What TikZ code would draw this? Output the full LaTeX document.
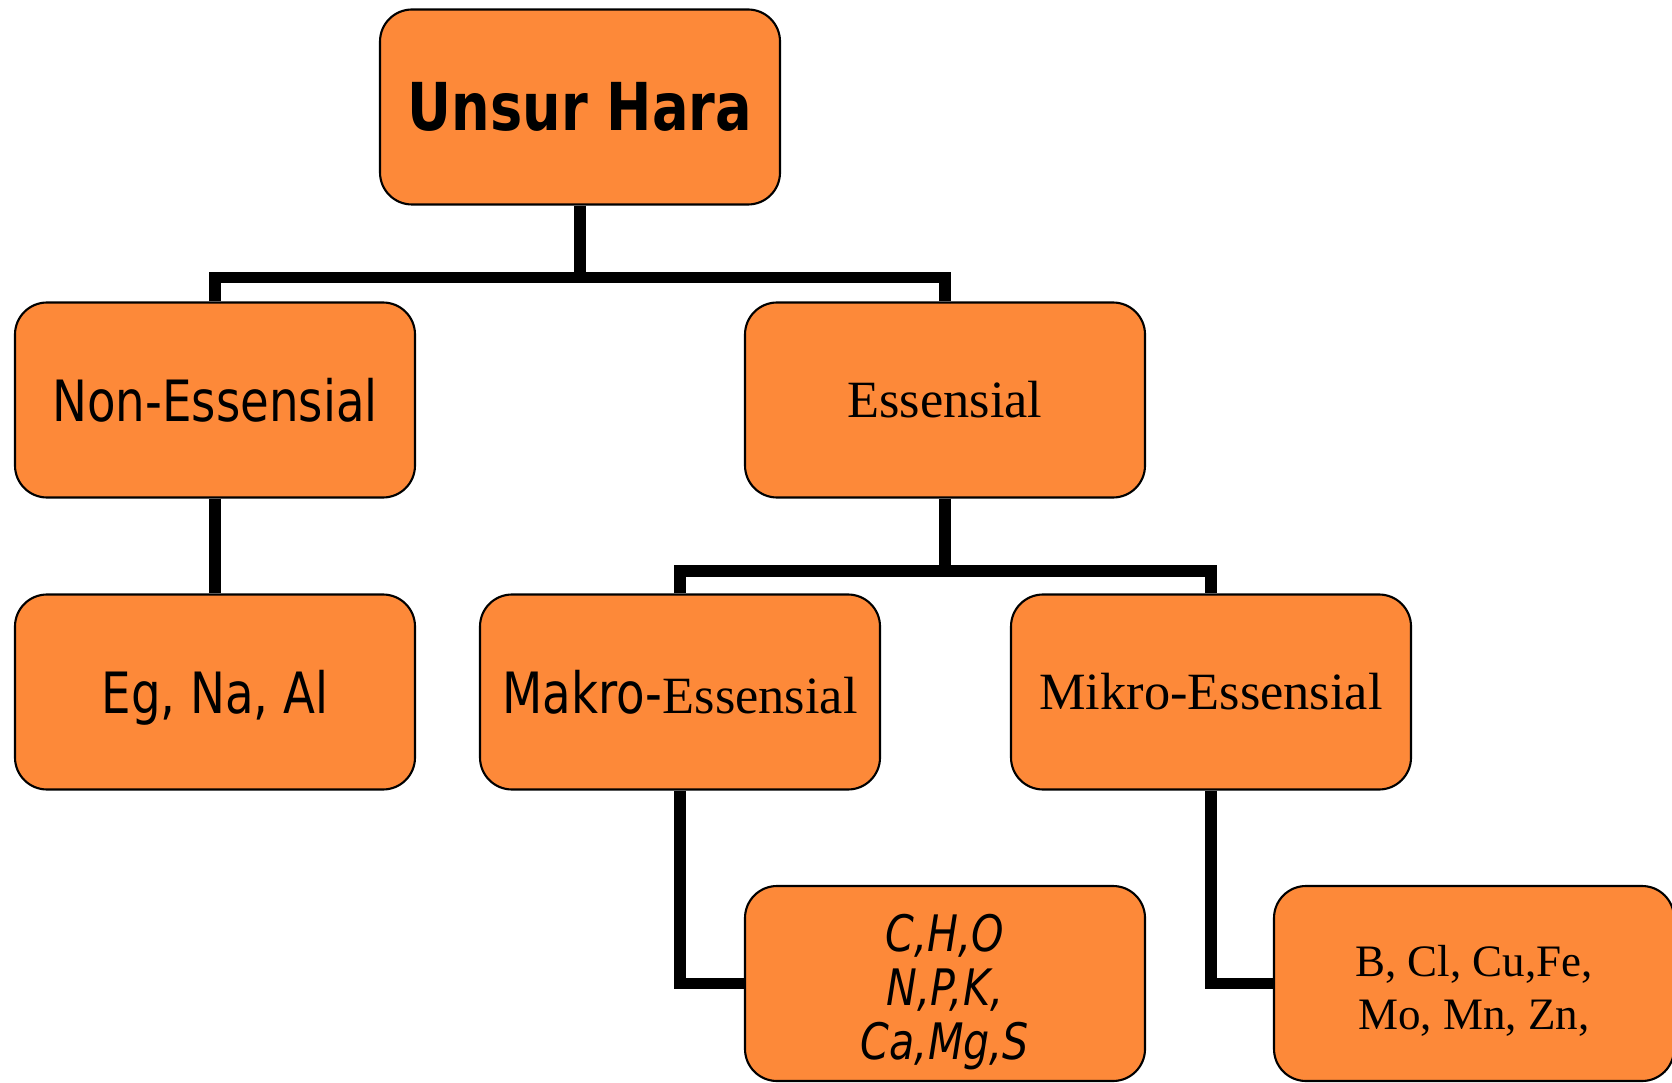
\documentclass[tikz,border=0pt]{standalone}
\usepackage{fontspec}
\setmainfont{Liberation Serif}
\newfontfamily\tahoma[FakeStretch=0.82]{DejaVu Sans}
\usepackage{xcolor}
\definecolor{haraorange}{RGB}{253,137,57}
\usepackage{tikz}
\usetikzlibrary{calc}

\begin{document}
\begin{tikzpicture}[
  harabox/.style={draw=black, line width=0.6pt, fill=haraorange, rounded corners=0.32cm,
    minimum width=4cm, minimum height=1.95cm, inner sep=0pt, align=center},
  sanstext/.style={font=\tahoma\fontsize{16.2}{19}\selectfont, text depth=0pt},
  seriftext/.style={font=\fontsize{14.9}{17}\selectfont},
  link/.style={draw=black, line width=3.3pt}
]
  \useasboundingbox (0,0) rectangle (16.72,10.82);
  \clip (0,0) rectangle (16.72,10.82);

  % Root
  \node[harabox, font=\tahoma\bfseries\fontsize{18.8}{22}\selectfont] (hara) at (5.80,9.75) {Unsur Hara};

  % Level 1: Non-Essensial / Essensial
  \node[harabox, sanstext] (non) at (2.15,6.82) {Non-Essensial};
  \node[harabox, seriftext] (ess) at (9.45,6.82) {Essensial};

  % Level 2
  \node[harabox, sanstext] (eg) at (2.15,3.90) {Eg, Na, Al};
  \node[harabox] (makro) at (6.80,3.90) {{\tahoma\fontsize{16.2}{19}\selectfont Makro-}{\fontsize{14.9}{17}\selectfont Essensial}};
  \node[harabox, seriftext] (mikro) at (12.11,3.90) {Mikro-Essensial};

  % Level 3: element lists
  \node[harabox, font=\tahoma\itshape\fontsize{14.3}{15.4}\selectfont] (cho) at (9.45,0.985) {\rule{0pt}{15.4pt}C,H,O\\N,P,K,\\Ca,Mg,S};
  \node[harabox, font=\fontsize{12.8}{15}\selectfont] (bcl) at (14.74,0.985) {\rule{0pt}{13pt}B, Cl, Cu,Fe,\\Mo, Mn, Zn,};

  % Connectors
  \coordinate (fork1) at (5.80,8.045);
  \coordinate (fork2) at (9.45,5.11);
  \draw[link] (hara.south) -- (fork1);
  \draw[link] (non.north) |- (fork1) -| (ess.north);
  \draw[link] (non.south) -- (eg.north);
  \draw[link] (ess.south) -- (fork2);
  \draw[link] (makro.north) |- (fork2) -| (mikro.north);
  \draw[link] (makro.south) |- (cho.west);
  \draw[link] (mikro.south) |- (bcl.west);
\end{tikzpicture}
\end{document}
